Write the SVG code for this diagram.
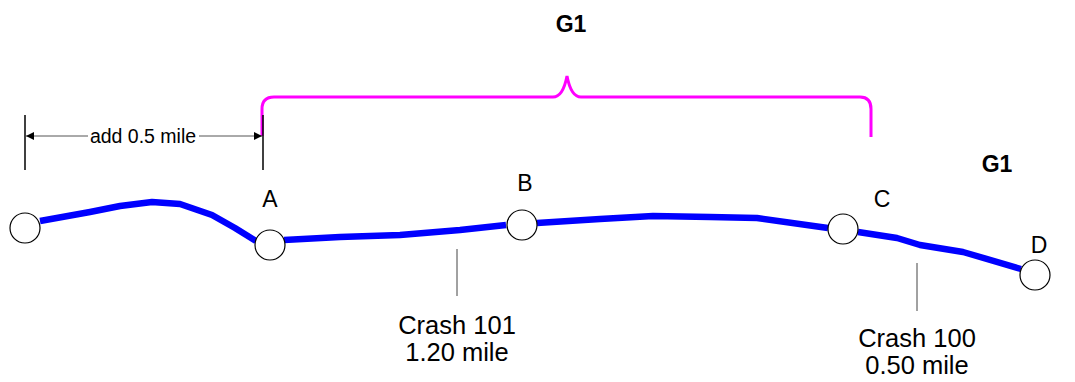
<svg xmlns="http://www.w3.org/2000/svg" width="1075" height="382" viewBox="0 0 1075 382">
<style>
text{font-family:"Liberation Sans",Arial,sans-serif;fill:#000}
.lbl{font-size:23px;text-anchor:middle}
.g1{font-size:23px;font-weight:bold;text-anchor:middle}
.crash{font-size:25.5px;text-anchor:middle}
.dim{font-size:19.5px;text-anchor:middle}
.route{fill:none;stroke:#0000FF;stroke-width:6.5;stroke-linejoin:round;stroke-linecap:butt}
.node{fill:#fff;stroke:#000;stroke-width:1.2}
.tick{stroke:#000;stroke-width:1.5}
.lead{stroke:#444;stroke-width:1}
</style>
<defs>
<marker id="ah" viewBox="0 0 10 10" refX="10" refY="5" markerWidth="10" markerHeight="8" markerUnits="userSpaceOnUse" orient="auto-start-reverse">
<path d="M0,0 L10,5 L0,10 Z" fill="#000"/>
</marker>
</defs>
<g id="connectors">
<polyline class="route" points="40,221 90,212 120,206 152,202 180,204 212,215 235,228 256,241"/>
<polyline class="route" points="284,240 340,237 400,235 460,230 506,225"/>
<polyline class="route" points="537,223 600,219 653,216 710,217 757,218 828,228"/>
<polyline class="route" points="858,232 897,238 920,245 963,252 1021,269"/>
<path d="M262,136 V109 Q262,97 274,97 H553 Q563,97 567,76 Q571,97 581,97 H860 Q871,97 871,109 V137" fill="none" stroke="#FF00FF" stroke-width="3"/>
<line class="tick" x1="25" y1="115" x2="25" y2="170"/>
<line class="tick" x1="263" y1="115" x2="263" y2="170"/>
<line x1="88" y1="136" x2="26" y2="136" stroke="#555" stroke-width="1" marker-end="url(#ah)"/>
<line x1="199" y1="136" x2="262" y2="136" stroke="#555" stroke-width="1" marker-end="url(#ah)"/>
<line class="lead" x1="457" y1="249" x2="457" y2="296"/>
<line class="lead" x1="917" y1="263" x2="917" y2="311"/>
</g>
<text class="dim" x="143" y="143">add 0.5 mile</text>
<g id="node-start"><circle class="node" cx="25" cy="228" r="15"/></g>
<g id="node-A"><circle class="node" cx="270" cy="245" r="15"/><text class="lbl" x="270" y="207">A</text></g>
<g id="node-B"><circle class="node" cx="522" cy="225" r="15"/><text class="lbl" x="525" y="191">B</text></g>
<g id="node-C"><circle class="node" cx="843" cy="229" r="15"/><text class="lbl" x="882" y="207">C</text></g>
<g id="node-D"><circle class="node" cx="1035" cy="275" r="15"/><text class="lbl" x="1039" y="253">D</text></g>
<g id="label-G1-top"><text class="g1" x="571" y="32">G1</text></g>
<g id="label-G1-right"><text class="g1" x="997" y="172">G1</text></g>
<g id="label-crash101"><text class="crash" x="457" y="334">Crash 101</text><text class="crash" x="457" y="361">1.20 mile</text></g>
<g id="label-crash100"><text class="crash" x="917" y="347">Crash 100</text><text class="crash" x="917" y="374">0.50 mile</text></g>
</svg>
